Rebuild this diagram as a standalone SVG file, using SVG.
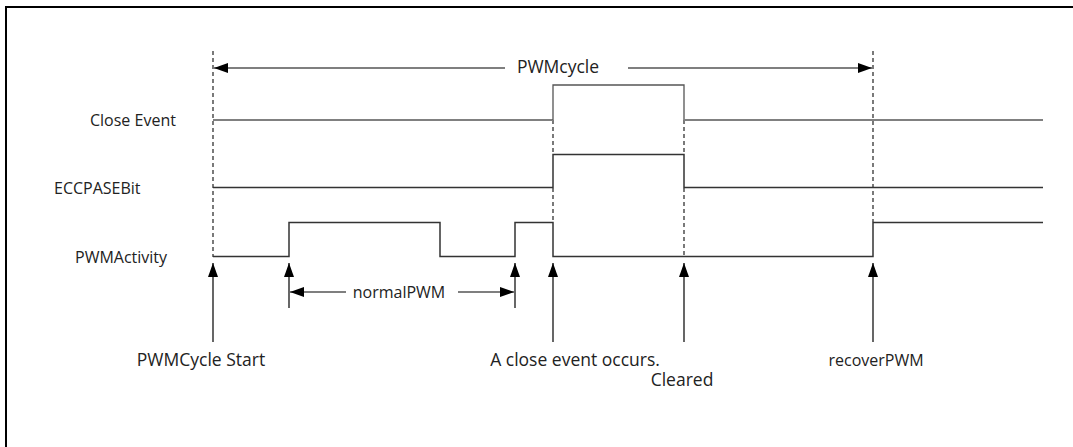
<svg xmlns="http://www.w3.org/2000/svg" width="1073" height="447" viewBox="0 0 1073 447">
<defs>
<marker id="ah" viewBox="0 0 14 10" refX="14" refY="5" markerWidth="14" markerHeight="10" markerUnits="userSpaceOnUse" orient="auto">
<path d="M0,0 L14,5 L0,10 Z" fill="#000"/>
</marker>
<style>
.t{font-family:"Open Sans","Noto Sans","Liberation Sans",sans-serif;fill:#222;font-size:16px}
.big{font-size:17.5px}
.sig{fill:none;stroke:#333;stroke-width:1.5}
.gray{fill:none;stroke:#808080;stroke-width:2}
.dash{fill:none;stroke:#222;stroke-width:1.2;stroke-dasharray:4,3}
.arr{fill:none;stroke:#000;stroke-width:1.2;marker-end:url(#ah)}
.frame{fill:none;stroke:#000;stroke-width:2}
</style>
</defs>
<rect width="1073" height="447" fill="#fff"/>
<path class="frame" d="M6,450 V7 H1075"/>

<g id="guides">
<line class="dash" x1="213" y1="51" x2="213" y2="257"/>
<line class="dash" x1="873" y1="51" x2="873" y2="222"/>
<line class="dash" x1="553" y1="120" x2="553" y2="154"/>
<line class="dash" x1="553" y1="188" x2="553" y2="222"/>
<line class="dash" x1="684" y1="120" x2="684" y2="154"/>
<line class="dash" x1="684" y1="188" x2="684" y2="256"/>
</g>

<g id="close-event">
<text class="t" x="90" y="126" font-size="12.5">Close Event</text>
<path class="gray" d="M213,120 H553"/>
<path class="sig" style="stroke:#555;stroke-width:1.3" d="M553,120 V85 H684 V120"/>
<path class="gray" d="M684,120 H1043"/>
</g>

<g id="eccpase-bit">
<text class="t" x="54" y="194">ECCPASEBit</text>
<path class="sig" d="M213,187.5 H553 V154.5 H684 V187.5 H1043"/>
</g>

<g id="pwm-activity">
<text class="t" x="75" y="263">PWMActivity</text>
<path class="sig" d="M213,256.5 H289 V222.5 H440 V256.5 H515 V222.5 H553 V256.5 H873 V222.5 H1043"/>
</g>

<g id="connectors">
<line class="arr" x1="505" y1="68" x2="214" y2="68"/>
<line class="arr" x1="628" y1="68" x2="872" y2="68"/>
<line class="arr" x1="213" y1="342" x2="213" y2="263"/>
<line class="arr" x1="289" y1="308" x2="289" y2="263"/>
<line class="arr" x1="515" y1="308" x2="515" y2="263"/>
<line class="arr" x1="553" y1="342" x2="553" y2="263"/>
<line class="arr" x1="684" y1="342" x2="684" y2="263"/>
<line class="arr" x1="873" y1="342" x2="873" y2="263"/>
<line class="arr" x1="346" y1="292" x2="290" y2="292"/>
<line class="arr" x1="458" y1="292" x2="514" y2="292"/>
</g>

<g id="labels">
<text class="t big" x="558" y="73" text-anchor="middle">PWMcycle</text>
<text class="t" x="399" y="298" text-anchor="middle">normalPWM</text>
<text class="t big" x="201" y="366" text-anchor="middle">PWMCycle Start</text>
<text class="t big" x="575" y="366" text-anchor="middle">A close event occurs.</text>
<text class="t big" x="682" y="386" text-anchor="middle">Cleared</text>
<text class="t" x="876" y="366" text-anchor="middle">recoverPWM</text>
</g>
</svg>
